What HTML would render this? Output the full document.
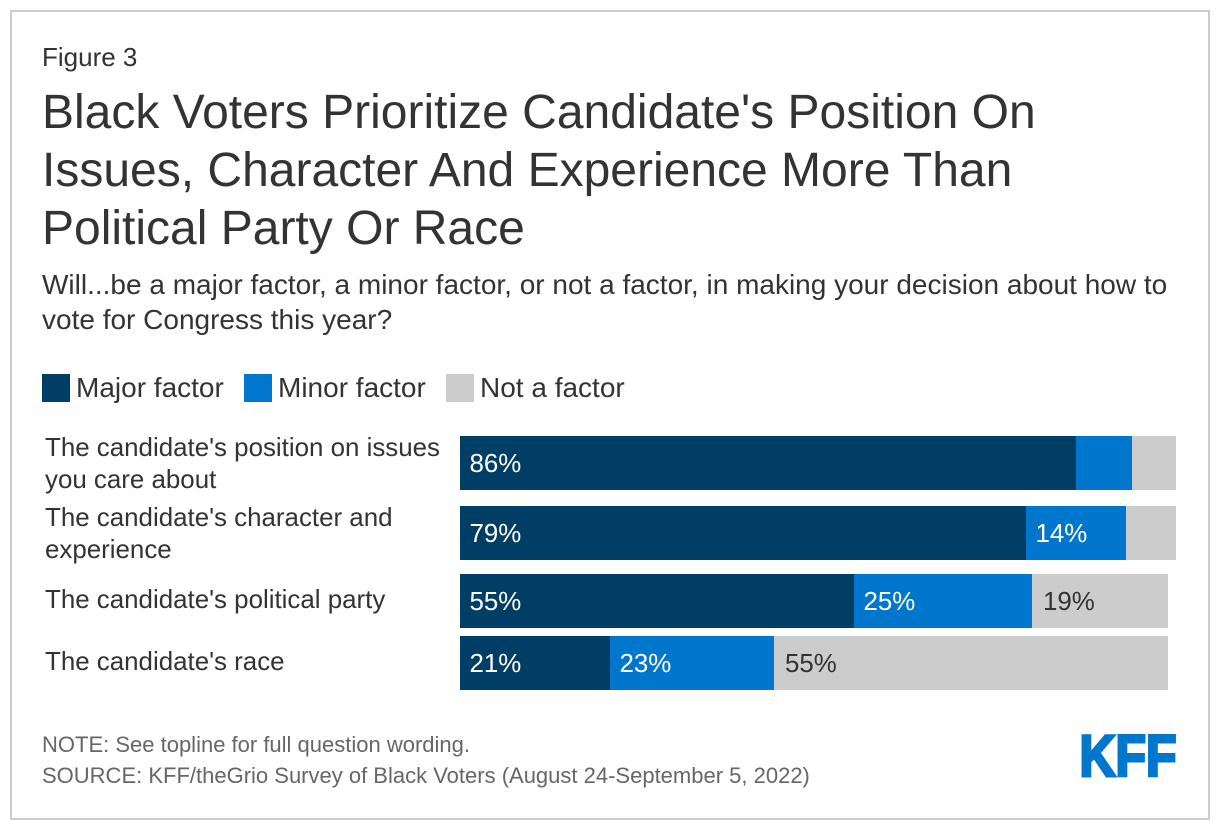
<!DOCTYPE html>
<html lang="en">
<head>
<meta charset="utf-8">
<title>Black Voters Prioritize Candidate's Position On Issues</title>
<style>
html,body{margin:0;padding:0;background:#fff;width:1220px;height:830px;overflow:hidden}
svg{display:block}
text{font-family:"Liberation Sans",Arial,sans-serif;fill:#333}
</style>
</head>
<body>
<svg id="chart" width="1220" height="830" viewBox="0 0 1220 830" xmlns="http://www.w3.org/2000/svg">
  <rect x="11" y="11" width="1198" height="808" fill="#fff" stroke="#ccc" stroke-width="2"/>
  <text x="42" y="66" font-size="26">Figure 3</text>
  <g font-size="48">
    <text x="42" y="128">Black Voters Prioritize Candidate's Position On</text>
    <text x="42" y="186">Issues, Character And Experience More Than</text>
    <text x="42" y="244">Political Party Or Race</text>
  </g>
  <g font-size="28">
    <text x="42" y="294">Will...be a major factor, a minor factor, or not a factor, in making your decision about how to</text>
    <text x="42" y="329">vote for Congress this year?</text>
  </g>
  <g font-size="28">
    <rect x="42" y="374" width="28" height="28" fill="#003e66"/>
    <text x="76" y="397">Major factor</text>
    <rect x="244" y="374" width="28" height="28" fill="#0077cc"/>
    <text x="278" y="397">Minor factor</text>
    <rect x="446" y="374" width="28" height="28" fill="#cccccc"/>
    <text x="480" y="397">Not a factor</text>
  </g>
  <g id="plot"></g>
  <g font-size="22">
    <text x="42" y="752" style="fill:#666">NOTE: See topline for full question wording.</text>
    <text x="42" y="783" style="fill:#666">SOURCE: KFF/theGrio Survey of Black Voters (August 24-September 5, 2022)</text>
  </g>
  <text x="1079.5" y="776" font-size="58" font-weight="bold" textLength="97" lengthAdjust="spacingAndGlyphs" style="fill:#0077cc;stroke:#0077cc;stroke-width:3">KFF</text>
</svg>
<script>
var categoryLines = [
  ["The candidate's position on issues", "you care about"],
  ["The candidate's character and", "experience"],
  ["The candidate's political party"],
  ["The candidate's race"]
];
var majorValues = [86, 79, 55, 21];
var minorValues = [7.8, 14, 24.9, 22.9];
var notValues = [6.2, 7, 19, 55];

var SVG_NS = 'http://www.w3.org/2000/svg';
var plot = document.getElementById('plot');
var seriesValues = [majorValues, minorValues, notValues];
var seriesKeys = ['major', 'minor', 'not'];
var seriesColors = ['#003e66', '#0077cc', '#cccccc'];
var labelColors = ['#ffffff', '#ffffff', '#333333'];

var X0 = 460, PX_PER_PCT = 7.16, BAR_H = 54;
function xScale(v) { return Math.round(X0 + v * PX_PER_PCT); }
// Vertical layout of the rows (the band axis has uneven gaps in the original).
function bandTop(i) { return [436, 506, 574, 636][i]; }
function labelBaseline(i, line, count) {
  var centre = bandTop(i) + BAR_H / 2;
  return centre + (count === 2 ? (line === 0 ? -7 : 25) : 7);
}

categoryLines.forEach(function (lines, i) {
  lines.forEach(function (line, l) {
    var t = document.createElementNS(SVG_NS, 'text');
    
    
    t.setAttribute('x', 45);
    t.setAttribute('y', labelBaseline(i, l, lines.length));
    t.setAttribute('font-size', '25.9');
    t.textContent = line;
    plot.appendChild(t);
  });
  var cum = 0;
  seriesValues.forEach(function (vals, s) {
    var v = vals[i];
    var x1 = xScale(cum), x2 = xScale(cum + v);
    var r = document.createElementNS(SVG_NS, 'rect');
    
    
    r.setAttribute('data-series', seriesKeys[s]);
    r.setAttribute('x', x1);
    r.setAttribute('y', bandTop(i));
    r.setAttribute('width', x2 - x1);
    r.setAttribute('height', BAR_H);
    r.setAttribute('fill', seriesColors[s]);
    plot.appendChild(r);
    if (v >= 10) {
      var lab = document.createElementNS(SVG_NS, 'text');
      
      
      lab.setAttribute('x', x1 + (s === 2 ? 11 : 9.5));
      lab.setAttribute('y', bandTop(i) + 36);
      lab.setAttribute('font-size', '25.9');
      lab.style.fill = labelColors[s];
      lab.textContent = Math.round(v) + '%';
      plot.appendChild(lab);
    }
    cum += v;
  });
});
</script>
</body>
</html>
